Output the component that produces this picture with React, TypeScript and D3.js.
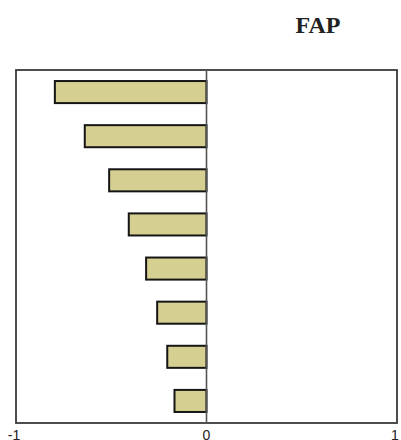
import React from "react";
import * as d3 from "d3";

const categories = ["c1", "c2", "c3", "c4", "c5", "c6", "c7", "c8"];
const values = [-0.796, -0.639, -0.511, -0.408, -0.317, -0.259, -0.206, -0.168];
const tickValues = [-1, 0, 1];
const title = "FAP";

const W = 401;
const H = 440;
const plot = { left: 16, right: 397, top: 70, bottom: 423 };

export default function App() {
  const x = d3.scaleLinear().domain([-1, 1]).range([plot.left, plot.right]);
  const y = d3
    .scaleBand<string>()
    .domain(categories)
    .range([plot.top, plot.bottom])
    .paddingInner(0.5)
    .paddingOuter(0.25);

  return (
    <svg
      width={W}
      height={H}
      style={{ position: "absolute", left: 0, top: 0, display: "block" }}
    >
      <rect width={W} height={H} fill="#fff" />
      <text
        x={318}
        y={33}
        textAnchor="middle"
        fontFamily="'Liberation Serif', 'DejaVu Serif', serif"
        fontWeight="bold"
        fontSize={24}
        fill="#222"
      >
        {title}
      </text>
      {/* plot frame */}
      <rect
        x={plot.left}
        y={plot.top}
        width={plot.right - plot.left}
        height={plot.bottom - plot.top}
        fill="none"
        stroke="#3a3a3a"
        strokeWidth={1.8}
      />
      {/* bars */}
      {values.map((v, i) => {
        const x0 = x(Math.min(0, v));
        const x1 = x(Math.max(0, v));
        return (
          <rect
            key={categories[i]}
            x={x0}
            y={y(categories[i])!}
            width={x1 - x0}
            height={y.bandwidth()}
            fill="#d5cf92"
            stroke="#151515"
            strokeWidth={2}
          />
        );
      })}
      {/* reference line at zero */}
      <line
        x1={x(0)}
        x2={x(0)}
        y1={plot.top}
        y2={plot.bottom}
        stroke="#555"
        strokeWidth={1.6}
      />
      {/* x tick labels */}
      {tickValues.map((t) => (
        <text
          key={t}
          x={x(t) - (t < 0 ? 2 : t > 0 ? 2 : 0)}
          y={440}
          textAnchor="middle"
          fontFamily="'Liberation Sans', Arial, sans-serif"
          fontSize={14}
          fill="#222"
        >
          {t}
        </text>
      ))}
    </svg>
  );
}
